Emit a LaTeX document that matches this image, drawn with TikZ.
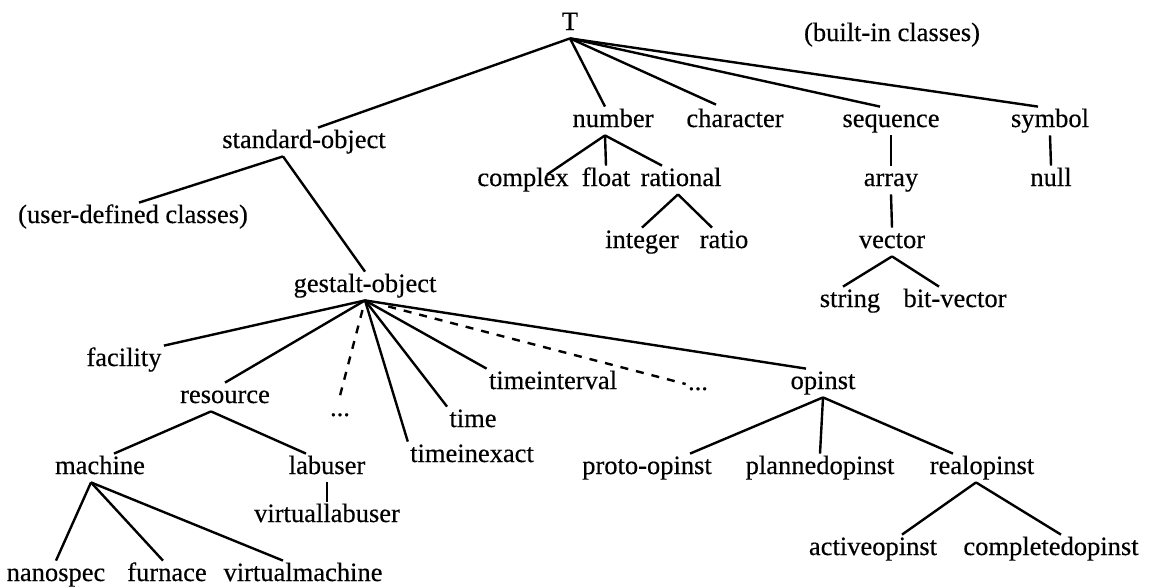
\documentclass[tikz,border=0pt]{standalone}
\usepackage{fontspec}
\setmainfont{Liberation Serif}
\newfontfamily\clsfont{Liberation Serif}[FakeBold=0.4]
\usetikzlibrary{calc}
\tikzset{
  cls/.style={anchor=base,inner sep=1pt,text height=9pt,text depth=3pt,
              font=\clsfont\fontsize{13.25}{15}\selectfont},
  isa/.style={line width=1.2pt},
  isadots/.style={line width=1.2pt,dash pattern=on 4pt off 4pt}
}
\begin{document}
\begin{tikzpicture}[x=0.5pt,y=-0.5pt]
  \useasboundingbox (0,0) rectangle (1150,586);
  % built-in classes
  \node[cls] (T) at (570,30) {T};
  \node[cls] (builtin) at (892,41) {(built-in classes)};
  \node[cls] (num) at (613,127) {number};
  \node[cls] (chr) at (735,127) {character};
  \node[cls] (seq) at (891,127) {sequence};
  \node[cls] (sym) at (1050,127) {symbol};
  \node[cls] (cpx) at (523,186) {complex};
  \node[cls] (flt) at (606,186) {float};
  \node[cls] (rat) at (681,186) {rational};
  \node[cls] (arr) at (891,186) {array};
  \node[cls] (nul) at (1051,186) {null};
  \node[cls] (intg) at (642,248) {integer};
  \node[cls] (rto) at (724,248) {ratio};
  \node[cls] (vec) at (892,248) {vector};
  \node[cls] (str) at (850,307) {string};
  \node[cls] (bvec) at (955,307) {bit-vector};
  % user-defined classes
  \node[cls] (std) at (304,148) {standard-object};
  \node[cls] (user) at (133,223) {(user-defined classes)};
  \node[cls] (gst) at (365,292) {gestalt-object};
  \node[cls] (fac) at (124,366) {facility};
  \node[cls] (rsc) at (225,403) {resource};
  \node[cls] (dotsA) at (340,416) {...};
  \node[cls] (tim) at (473,427) {time};
  \node[cls] (tinx) at (472,462) {timeinexact};
  \node[cls] (tint) at (553,389) {timeinterval};
  \node[cls] (dotsB) at (698,390) {...};
  \node[cls] (opi) at (823,389) {opinst};
  \node[cls] (mch) at (100,474) {machine};
  \node[cls] (lab) at (327,474) {labuser};
  \node[cls] (vlab) at (327,522) {virtuallabuser};
  \node[cls] (proto) at (647,474) {proto-opinst};
  \node[cls] (plan) at (820,474) {plannedopinst};
  \node[cls] (real) at (982,474) {realopinst};
  \node[cls] (act) at (873,555) {activeopinst};
  \node[cls] (cmp) at (1051,555) {completedopinst};
  \node[cls] (nano) at (56,581) {nanospec};
  \node[cls] (furn) at (167,581) {furnace};
  \node[cls] (vmch) at (303,581) {virtualmachine};

  \draw[isa] (T.south) -- ($(std.north)+(14,0)$);
  \draw[isa] (T.south) -- ($(num.north)+(-8,0)$);
  \draw[isa] (T.south) -- ($(chr.north)+(-19,-2)$);
  \draw[isa] (T.south) -- ($(seq.north)+(-11,0)$);
  \draw[isa] (T.south) -- ($(sym.north)+(-12,0)$);
  \draw[isa] ($(num.south)+(-8,0)$) -- ($(cpx.north)+(24,9)$);
  \draw[isa] ($(num.south)+(-8,0)$) -- (flt.north);
  \draw[isa] ($(num.south)+(-8,0)$) -- ($(rat.north)+(-19,0)$);
  \draw[isa] ($(rat.south)+(-3,0)$) -- (intg.north);
  \draw[isa] ($(rat.south)+(-3,0)$) -- ($(rto.north)+(-12,0)$);
  \draw[isa] (seq.south) -- (arr.north);
  \draw[isa] (arr.south) -- (vec.north);
  \draw[isa] (vec.south) -- ($(str.north)+(-7,0)$);
  \draw[isa] (vec.south) -- ($(bvec.north)+(-16,0)$);
  \draw[isa] (sym.south) -- (nul.north);

  \draw[isa] ($(std.south)+(-21,0)$) -- ($(user.north)+(6,0)$);
  \draw[isa] ($(std.south)+(-21,0)$) -- (gst.north);
  \draw[isa] (gst.south) -- (fac.north east);
  \draw[isa] (gst.south) -- (rsc.north);
  \draw[isadots,shorten <=5pt] (gst.south) -- (dotsA.north);
  \draw[isa] (gst.south) -- (tinx.north west);
  \draw[isa] (gst.south) -- (tim.north west);
  \draw[isa] (gst.south) -- (tint.north west);
  \draw[isadots,shorten <=12pt] (gst.south) -- (dotsB.west);
  \draw[isa] (gst.south) -- ($(opi.north)+(-17,0)$);
  \draw[isa] ($(rsc.south)+(-14,0)$) -- ($(mch.north)+(14,0)$);
  \draw[isa] ($(rsc.south)+(-14,0)$) -- ($(lab.north)+(-21,0)$);
  \draw[isa] (lab.south) -- (vlab.north);
  \draw[isa] ($(mch.south)+(-9,0)$) -- (nano.north);
  \draw[isa] ($(mch.south)+(-9,0)$) -- ($(furn.north)+(-4,0)$);
  \draw[isa] ($(mch.south)+(-9,0)$) -- ($(vmch.north)+(-20,0)$);
  \draw[isa] (opi.south) -- ($(proto.north)+(43,0)$);
  \draw[isa] (opi.south) -- (plan.north);
  \draw[isa] (opi.south) -- ($(real.north)+(-29,0)$);
  \draw[isa] ($(real.south)+(-6,0)$) -- ($(act.north)+(29,0)$);
  \draw[isa] ($(real.south)+(-6,0)$) -- ($(cmp.north)+(10,0)$);
\end{tikzpicture}
\end{document}
